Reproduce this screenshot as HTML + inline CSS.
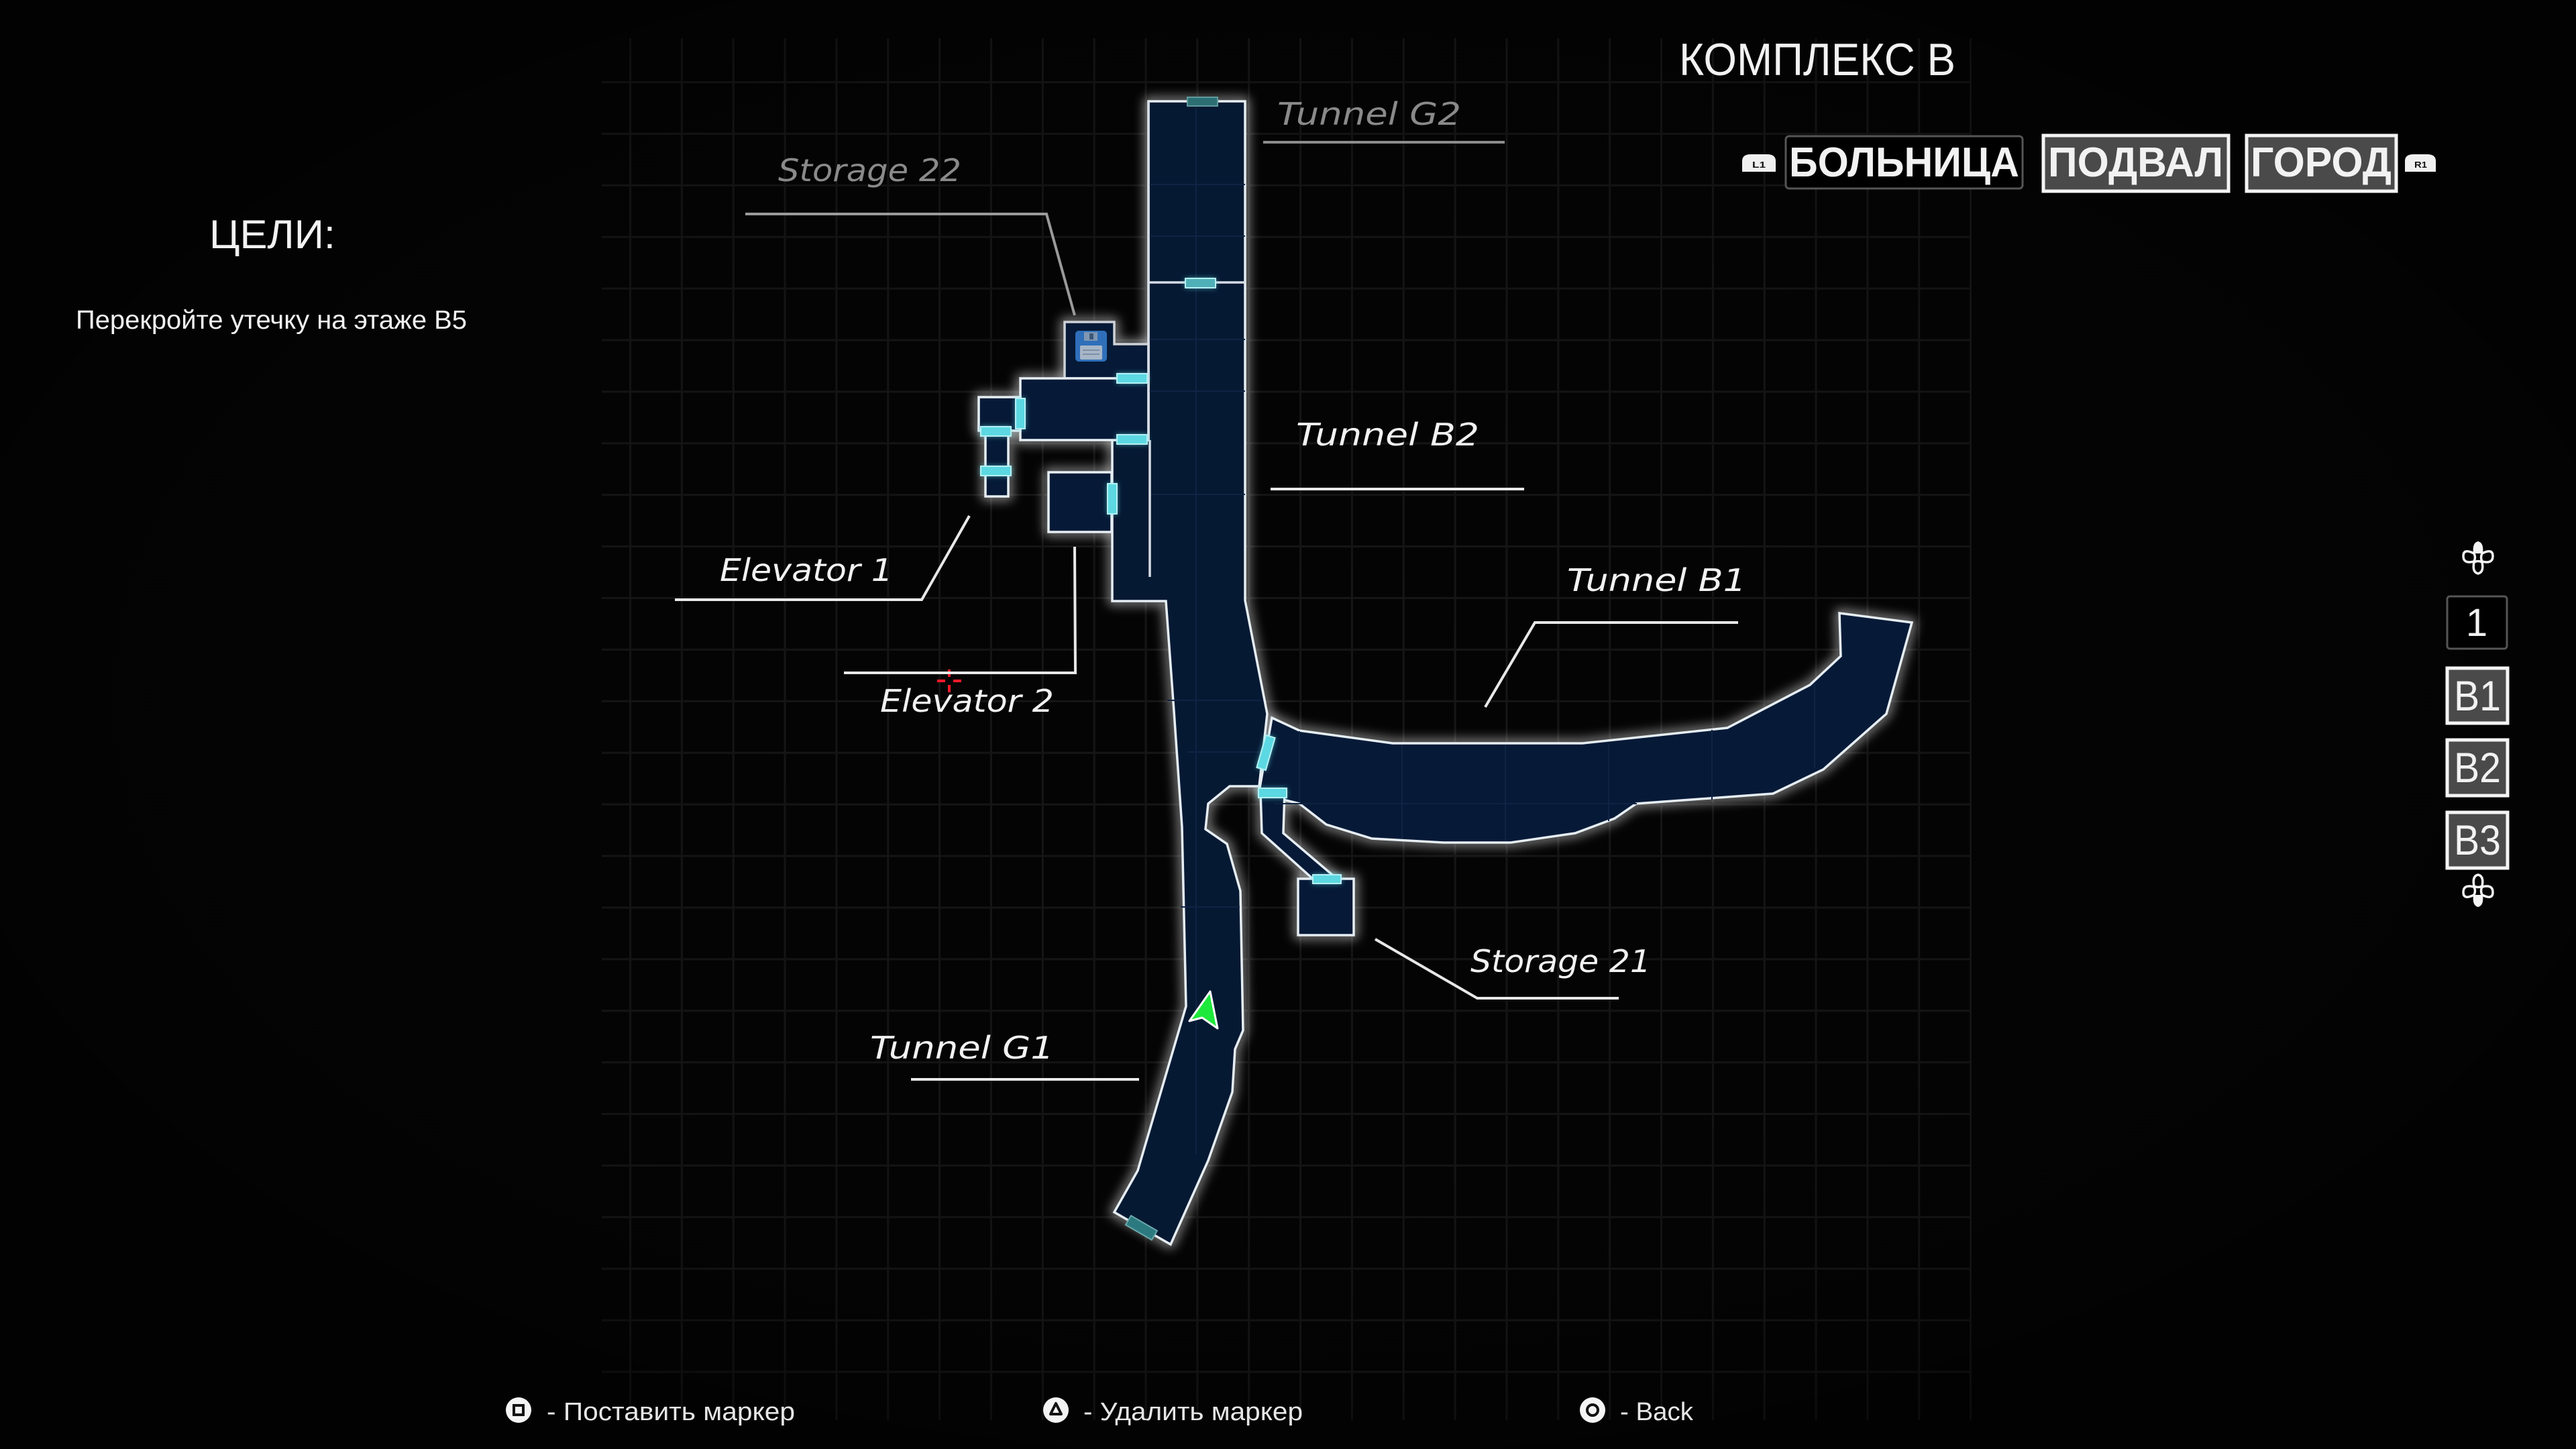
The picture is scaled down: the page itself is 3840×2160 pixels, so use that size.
<!DOCTYPE html>
<html><head><meta charset="utf-8">
<style>
html,body{margin:0;padding:0;background:#040404;}
body{width:3840px;height:2160px;overflow:hidden;}
svg{display:block;}
</style></head>
<body>
<svg width="3840" height="2160" viewBox="0 0 3840 2160" xmlns="http://www.w3.org/2000/svg">
<defs>
  <pattern id="grid" x="938" y="121" width="76.85" height="76.9" patternUnits="userSpaceOnUse">
    <rect x="0" y="0" width="3" height="76.9" fill="#161616"/>
    <rect x="0" y="0" width="76.85" height="3" fill="#161616"/>
  </pattern>
  <filter id="glow" x="-20%" y="-20%" width="140%" height="140%">
    <feGaussianBlur stdDeviation="8"/>
  </filter>
  <filter id="dglow" x="-50%" y="-50%" width="200%" height="200%">
    <feGaussianBlur stdDeviation="4"/>
  </filter>
  <radialGradient id="vig" cx="50%" cy="48%" r="60%">
    <stop offset="0" stop-color="#000" stop-opacity="0"/>
    <stop offset="0.75" stop-color="#000" stop-opacity="0.15"/>
    <stop offset="1" stop-color="#000" stop-opacity="0.6"/>
  </radialGradient>
</defs>

<rect width="3840" height="2160" fill="#040404"/>
<rect x="897" y="57" width="2042" height="2060" fill="url(#grid)"/>
<rect width="3840" height="2160" fill="url(#vig)"/>

<!-- ===== MAP ===== -->
<g id="shapes">
  <!-- glow layer -->
  <g filter="url(#glow)" stroke="#ffffff" stroke-opacity="0.55" stroke-width="12" fill="none" stroke-linejoin="round">
    <polygon points="1896,1070 1937,1089 2076,1108 2359,1108 2575,1085 2698,1021 2744,978 2742,914 2850,928 2812,1064 2718,1147 2643,1183 2439,1198 2407,1220 2348,1242 2252,1256 2152,1256 2045,1250 1977,1229 1937,1198 1913,1192 1877,1180"/>
    <polygon points="1879,1180 1915,1180 1913,1242 1993,1310 1957,1310 1881,1242"/>
    <rect x="1935" y="1310" width="83" height="84"/>
    <polygon points="1712,151 1856,151 1856,895 1889,1064 1877,1172 1833,1172 1801,1198 1797,1236 1829,1258 1849,1328 1853,1536 1841,1564 1837,1628 1801,1730 1745,1855 1661,1807 1696,1745 1768,1500 1762,1233 1750,1060 1738,896 1658,896 1658,656 1712,656"/>
    <polygon points="1587,480 1661,480 1661,513 1712,513 1712,564 1587,564"/>
    <rect x="1521" y="564" width="191" height="92"/>
    <rect x="1459" y="592" width="62" height="50"/>
    <rect x="1469" y="642" width="34" height="98"/>
    <rect x="1563" y="704" width="94" height="89"/>
  </g>
  <!-- fill + crisp stroke -->
  <g fill="#061a37" stroke="#e6eef4" stroke-width="3.5" stroke-linejoin="miter">
    <polygon points="1896,1070 1937,1089 2076,1108 2359,1108 2575,1085 2698,1021 2744,978 2742,914 2850,928 2812,1064 2718,1147 2643,1183 2439,1198 2407,1220 2348,1242 2252,1256 2152,1256 2045,1250 1977,1229 1937,1198 1913,1192 1877,1180"/>
    <polygon points="1879,1180 1915,1180 1913,1242 1993,1310 1957,1310 1881,1242"/>
    <rect x="1935" y="1310" width="83" height="84"/>
    <polygon points="1712,151 1856,151 1856,895 1889,1064 1877,1172 1833,1172 1801,1198 1797,1236 1829,1258 1849,1328 1853,1536 1841,1564 1837,1628 1801,1730 1745,1855 1661,1807 1696,1745 1768,1500 1762,1233 1750,1060 1738,896 1658,896 1658,656 1712,656" fill="#061933"/>
    <polygon points="1587,480 1661,480 1661,513 1712,513 1712,564 1587,564" stroke="#cdd2d7"/>
    <rect x="1521" y="564" width="191" height="92"/>
    <rect x="1459" y="592" width="62" height="50"/>
    <rect x="1469" y="642" width="34" height="98"/>
    <rect x="1563" y="704" width="94" height="89"/>
  </g>
  <!-- faint grid inside tunnels -->
  <g stroke="#0f2444" stroke-width="2">
    <line x1="1712" y1="275" x2="1856" y2="275"/>
    <line x1="1712" y1="352" x2="1856" y2="352"/>
    <line x1="1712" y1="506" x2="1856" y2="506"/>
    <line x1="1712" y1="583" x2="1856" y2="583"/>
    <line x1="1714" y1="737" x2="1856" y2="737"/>
    <line x1="1740" y1="1044" x2="1880" y2="1044"/>
    <line x1="1760" y1="1352" x2="1848" y2="1352"/>
    <line x1="1770" y1="1121" x2="1880" y2="1121"/>
    <line x1="1783" y1="160" x2="1783" y2="1720"/>
    <line x1="1937" y1="1090" x2="1937" y2="1195"/>
    <line x1="2090" y1="1110" x2="2090" y2="1250"/>
    <line x1="2244" y1="1110" x2="2244" y2="1254"/>
    <line x1="2398" y1="1110" x2="2398" y2="1224"/>
    <line x1="2552" y1="1088" x2="2552" y2="1192"/>
    <line x1="2705" y1="1018" x2="2705" y2="1145"/>
    <line x1="1900" y1="1198" x2="2440" y2="1198"/>
  </g>
  <!-- internal lines -->
  <g stroke="#d6dde4" stroke-width="3.5" fill="none">
    <line x1="1712" y1="421" x2="1856" y2="421"/>
    <line x1="1714" y1="656" x2="1714" y2="860"/>
    <line x1="1712" y1="151" x2="1712" y2="656"/>
  </g>
</g>

<!-- doors -->
<g>
  <g filter="url(#dglow)" fill="#5fe0ea" opacity="0.75">
    <rect x="1767" y="415" width="45" height="14"/>
    <rect x="1665" y="557" width="45" height="14"/>
    <rect x="1665" y="648" width="45" height="14"/>
    <rect x="1514" y="594" width="14" height="45"/>
    <rect x="1462" y="636" width="45" height="14"/>
    <rect x="1462" y="695" width="45" height="14"/>
    <rect x="1651" y="721" width="14" height="45"/>
    <rect x="1876" y="1175" width="42" height="14"/>
    <rect x="1957" y="1304" width="42" height="13"/>
    <rect x="1880" y="1097" width="14" height="50" transform="rotate(16 1887 1122)"/>
  </g>
  <g fill="#5cd8e2" stroke="#b6f0f4" stroke-width="2">
    <rect x="1767" y="415" width="45" height="14" fill="#4fb0b8"/>
    <rect x="1665" y="557" width="45" height="14"/>
    <rect x="1665" y="648" width="45" height="14"/>
    <rect x="1514" y="594" width="14" height="45"/>
    <rect x="1462" y="636" width="45" height="14"/>
    <rect x="1462" y="695" width="45" height="14"/>
    <rect x="1651" y="721" width="14" height="45"/>
    <rect x="1876" y="1175" width="42" height="14"/>
    <rect x="1957" y="1304" width="42" height="13"/>
    <rect x="1880" y="1097" width="14" height="50" transform="rotate(16 1887 1122)"/>
  </g>
  <!-- dim doors -->
  <rect x="1770" y="145" width="45" height="13" fill="#2c6f73" stroke="#5e9a9c" stroke-width="2"/>
  <rect x="1679" y="1822" width="45" height="16" fill="#2c7a80" stroke="#6aa8aa" stroke-width="2" transform="rotate(30 1701 1830)"/>
</g>

<!-- floppy icon -->
<g>
  <rect x="1603" y="493" width="47" height="46" rx="5" fill="#2f6fba"/>
  <rect x="1616" y="495" width="20" height="13" fill="#7f96b2"/>
  <rect x="1624" y="497" width="6" height="9" fill="#3b5778"/>
  <rect x="1610" y="515" width="33" height="21" rx="2" fill="#a7b6c8"/>
  <line x1="1614" y1="522" x2="1639" y2="522" stroke="#7d8fa6" stroke-width="2"/>
  <line x1="1614" y1="528" x2="1639" y2="528" stroke="#7d8fa6" stroke-width="2"/>
</g>

<!-- player arrow -->
<polygon points="1804,1478 1815,1533 1792,1517 1773,1522" fill="#1ee83c" stroke="#ffffff" stroke-width="3" stroke-linejoin="round"/>

<!-- red crosshair -->
<g stroke="#ff1a2a" stroke-width="4">
  <line x1="1397" y1="1015" x2="1409" y2="1015"/>
  <line x1="1421" y1="1015" x2="1433" y2="1015"/>
  <line x1="1415" y1="998" x2="1415" y2="1009"/>
  <line x1="1415" y1="1021" x2="1415" y2="1032"/>
</g>

<!-- leader lines -->
<g fill="none" stroke-width="4">
  <polyline points="1883,212 2243,212" stroke="#8c8c8c"/>
  <polyline points="1111,319 1560,319 1602,470" stroke="#9a9a9a"/>
  <polyline points="1894,729 2272,729" stroke="#e8e8e8"/>
  <polyline points="2214,1054 2288,928 2591,928" stroke="#e8e8e8"/>
  <polyline points="2050,1400 2202,1488 2413,1488" stroke="#e8e8e8"/>
  <polyline points="1006,894 1374,894 1445,769" stroke="#e8e8e8"/>
  <polyline points="1258,1003 1603,1003 1602,815" stroke="#e8e8e8"/>
  <polyline points="1358,1609 1698,1609" stroke="#e8e8e8"/>
</g>

<!-- map labels -->
<g font-family="'DejaVu Sans','Liberation Sans',sans-serif" font-style="italic" font-size="46">
  <text x="1904" y="186" fill="#8a8a8a" textLength="274" lengthAdjust="spacingAndGlyphs">Tunnel G2</text>
  <text x="1160" y="270" fill="#8a8a8a" textLength="273" lengthAdjust="spacingAndGlyphs">Storage 22</text>
  <text x="1932" y="664" fill="#f2f2f2" textLength="273" lengthAdjust="spacingAndGlyphs">Tunnel B2</text>
  <text x="2336" y="881" fill="#f2f2f2" textLength="267" lengthAdjust="spacingAndGlyphs">Tunnel B1</text>
  <text x="2192" y="1449" fill="#f2f2f2" textLength="269" lengthAdjust="spacingAndGlyphs">Storage 21</text>
  <text x="1073" y="866" fill="#f2f2f2" textLength="258" lengthAdjust="spacingAndGlyphs">Elevator 1</text>
  <text x="1312" y="1061" fill="#f2f2f2" textLength="259" lengthAdjust="spacingAndGlyphs">Elevator 2</text>
  <text x="1297" y="1578" fill="#f2f2f2" textLength="274" lengthAdjust="spacingAndGlyphs">Tunnel G1</text>
</g>

<!-- ===== HUD ===== -->
<g font-family="'Liberation Sans Narrow','Liberation Sans',sans-serif" fill="#f2f2f2">
  <text x="2503" y="112" font-size="68" textLength="412" lengthAdjust="spacingAndGlyphs">КОМПЛЕКС B</text>

  <!-- L1 icon -->
  <path d="M2597,256 L2597,240 Q2597,230 2610,230 L2634,230 Q2647,230 2647,240 L2647,256 Z" fill="#f0f0f0"/>
  <text x="2612" y="250" font-size="13" font-weight="bold" fill="#111" textLength="20" lengthAdjust="spacingAndGlyphs">L1</text>

  <rect x="2662" y="203" width="353" height="78" rx="5" fill="#000" stroke="#555" stroke-width="3"/>
  <text x="2667" y="263" font-size="62" font-weight="bold" textLength="343" lengthAdjust="spacingAndGlyphs">БОЛЬНИЦА</text>

  <rect x="3046" y="202" width="276" height="83" fill="#4a4a4a" stroke="#f4f4f4" stroke-width="5"/>
  <text x="3053" y="263" font-size="62" font-weight="bold" textLength="261" lengthAdjust="spacingAndGlyphs">ПОДВАЛ</text>

  <rect x="3349" y="202" width="223" height="83" fill="#4a4a4a" stroke="#f4f4f4" stroke-width="5"/>
  <text x="3355" y="263" font-size="62" font-weight="bold" textLength="210" lengthAdjust="spacingAndGlyphs">ГОРОД</text>

  <!-- R1 icon -->
  <path d="M3585,256 L3585,240 Q3585,230 3598,230 L3618,230 Q3631,230 3631,240 L3631,256 Z" fill="#f0f0f0"/>
  <text x="3599" y="250" font-size="13" font-weight="bold" fill="#111" textLength="19" lengthAdjust="spacingAndGlyphs">R1</text>

  <!-- objectives -->
  <text x="312" y="370" font-size="60" textLength="188" lengthAdjust="spacingAndGlyphs">ЦЕЛИ:</text>
  <text x="113" y="490" font-size="39" textLength="583" lengthAdjust="spacingAndGlyphs">Перекройте утечку на этаже B5</text>

  <!-- floor selector -->
  <g transform="translate(3694,831)">
    <path d="M-7,-6 Q-9,-22 0,-24 Q9,-22 7,-6 Z" fill="#f4f4f4"/>
    <path d="M-6,-6 Q-22,-14 -22,-2 Q-22,10 -6,6 Q-3,0 -6,-6 Z" fill="none" stroke="#f4f4f4" stroke-width="3.5"/>
    <path d="M6,-6 Q22,-14 22,-2 Q22,10 6,6 Q3,0 6,-6 Z" fill="none" stroke="#f4f4f4" stroke-width="3.5"/>
    <path d="M-6,7 Q0,4 6,7 Q9,22 0,24 Q-9,22 -6,7 Z" fill="none" stroke="#f4f4f4" stroke-width="3.5"/>
  </g>
  <rect x="3648" y="889" width="89" height="78" rx="4" fill="#000" stroke="#555" stroke-width="3"/>
  <text x="3692" y="948" font-size="58" text-anchor="middle">1</text>

  <rect x="3648" y="996" width="90" height="82" fill="#4a4a4a" stroke="#f4f4f4" stroke-width="5"/>
  <text x="3658" y="1059" font-size="63" textLength="70" lengthAdjust="spacingAndGlyphs">B1</text>
  <rect x="3648" y="1103" width="90" height="83" fill="#4a4a4a" stroke="#f4f4f4" stroke-width="5"/>
  <text x="3658" y="1166" font-size="63" textLength="70" lengthAdjust="spacingAndGlyphs">B2</text>
  <rect x="3648" y="1211" width="90" height="83" fill="#4a4a4a" stroke="#f4f4f4" stroke-width="5"/>
  <text x="3658" y="1274" font-size="63" textLength="70" lengthAdjust="spacingAndGlyphs">B3</text>

  <g transform="translate(3694,1328) rotate(180)">
    <path d="M-7,-6 Q-9,-22 0,-24 Q9,-22 7,-6 Z" fill="#f4f4f4"/>
    <path d="M-6,-6 Q-22,-14 -22,-2 Q-22,10 -6,6 Q-3,0 -6,-6 Z" fill="none" stroke="#f4f4f4" stroke-width="3.5"/>
    <path d="M6,-6 Q22,-14 22,-2 Q22,10 6,6 Q3,0 6,-6 Z" fill="none" stroke="#f4f4f4" stroke-width="3.5"/>
    <path d="M-6,7 Q0,4 6,7 Q9,22 0,24 Q-9,22 -6,7 Z" fill="none" stroke="#f4f4f4" stroke-width="3.5"/>
  </g>

  <!-- bottom prompts -->
  <circle cx="773" cy="2102" r="19" fill="#f4f4f4"/>
  <rect x="766" y="2095" width="14" height="14" fill="none" stroke="#111" stroke-width="4"/>
  <text x="815" y="2117" font-size="38" fill="#e6e6e6" textLength="370" lengthAdjust="spacingAndGlyphs">- Поставить маркер</text>

  <circle cx="1574" cy="2102" r="19" fill="#f4f4f4"/>
  <polygon points="1574,2092 1582,2108 1566,2108" fill="none" stroke="#111" stroke-width="4" stroke-linejoin="round"/>
  <text x="1615" y="2117" font-size="38" fill="#e6e6e6" textLength="327" lengthAdjust="spacingAndGlyphs">- Удалить маркер</text>

  <circle cx="2374" cy="2102" r="19" fill="#f4f4f4"/>
  <circle cx="2374" cy="2102" r="8" fill="none" stroke="#111" stroke-width="4"/>
  <text x="2415" y="2117" font-size="38" fill="#e6e6e6" textLength="109" lengthAdjust="spacingAndGlyphs">- Back</text>
</g>
</svg>
</body></html>
